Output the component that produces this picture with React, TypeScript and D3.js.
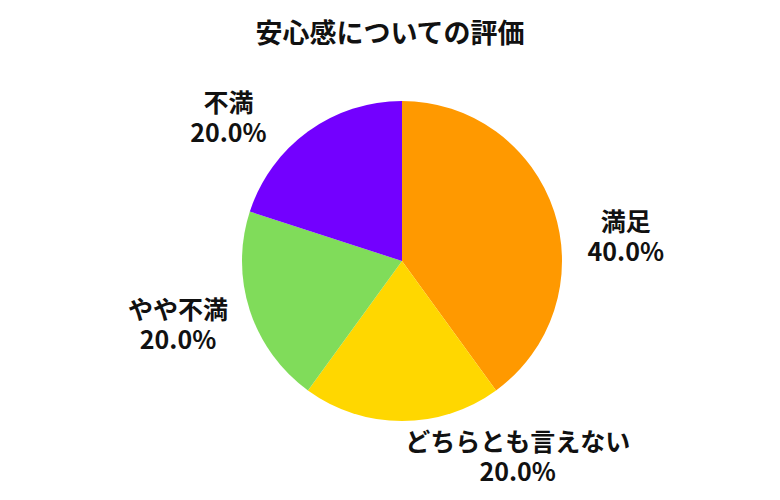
import * as React from "react";
import { arc, pie, PieArcDatum } from "d3";

const categories = ["満足", "どちらとも言えない", "やや不満", "不満"];
const values = [40, 20, 20, 20];
const colors = ["#FF9900", "#FFD700", "#80DC5A", "#7300FF"];
// label placement around the pie (degrees clockwise from 12 o'clock)
const labelAngles = [84, 149.5, 254, 309.5];
const labelRadius = [225, 228, 233, 225];

const width = 780;
const height = 500;
const cx = 402;
const cy = 261;
const radius = 160;
const fontFamily = "'Noto Sans CJK JP', 'Noto Sans', sans-serif";

type Datum = { name: string; value: number; color: string };

export default function App() {
  const data: Datum[] = categories.map((name, i) => ({
    name,
    value: values[i],
    color: colors[i],
  }));
  const total = values.reduce((a, b) => a + b, 0);

  const arcs = pie<Datum>()
    .sort(null)
    .value((d) => d.value)(data);

  const arcGen = arc<PieArcDatum<Datum>>().innerRadius(0).outerRadius(radius);

  const fs = 25;
  const lh = 30;

  return (
    <svg
      width={width}
      height={height}
      style={{ position: "absolute", left: 0, top: 0, background: "#fff" }}
    >
      <text
        x={390}
        y={43}
        textAnchor="middle"
        fontFamily={fontFamily}
        fontWeight="bold"
        fontSize={27}
        fill="#111"
      >
        安心感についての評価
      </text>
      <g transform={`translate(${cx},${cy})`}>
        {arcs.map((a, i) => (
          <path key={i} d={arcGen(a) || ""} fill={a.data.color} />
        ))}
        {arcs.map((a, i) => {
          const ang = (labelAngles[i] * Math.PI) / 180;
          const x = Math.sin(ang) * labelRadius[i];
          const y = -Math.cos(ang) * labelRadius[i];
          const pct = ((a.data.value / total) * 100).toFixed(1) + "%";
          return (
            <text
              key={i}
              textAnchor="middle"
              fontFamily={fontFamily}
              fontWeight="bold"
              fontSize={fs}
              fill="#111"
            >
              <tspan x={x} y={y - lh / 2 + 0.35 * fs}>
                {a.data.name}
              </tspan>
              <tspan x={x} y={y + lh / 2 + 0.35 * fs}>
                {pct}
              </tspan>
            </text>
          );
        })}
      </g>
    </svg>
  );
}
